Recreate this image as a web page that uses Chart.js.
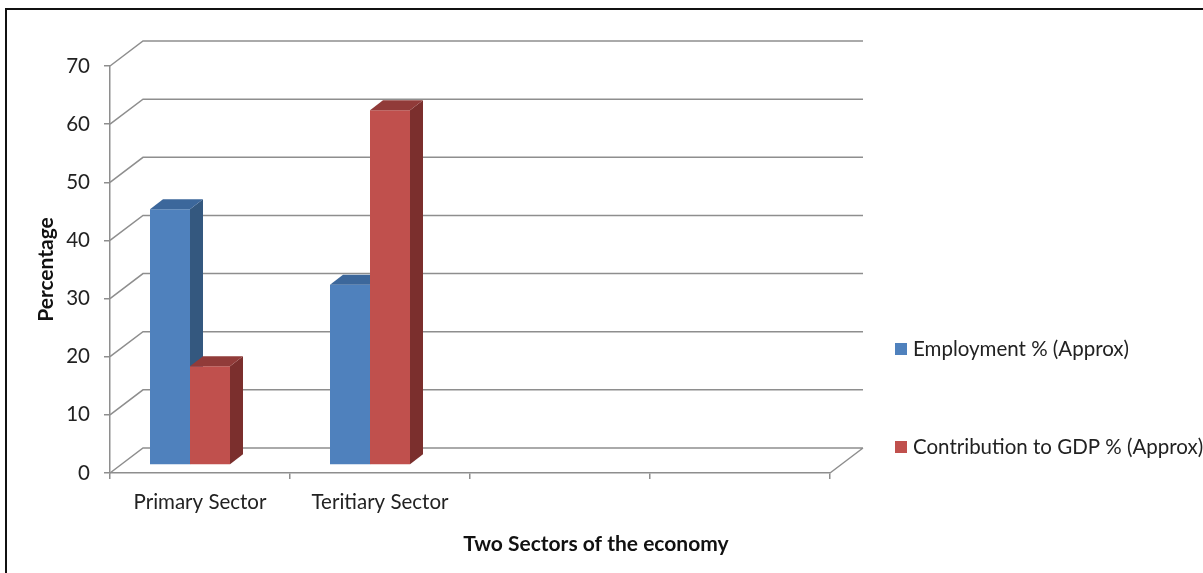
<!DOCTYPE html>
<html lang="en">
<head>
<meta charset="UTF-8">
<title>Two Sectors of the economy</title>
<script src="https://cdn.jsdelivr.net/npm/chart.js"></script>
<style>
    body { margin: 0; background: #ffffff; }
    canvas { display: block; }
</style>
</head>
<body>
<canvas id="sectorChart" width="1203" height="573"></canvas>
<script>
    // data
    const categories = ['Primary Sector', 'Teritiary Sector', '', ''];
    const employment = [44, 31, null, null];
    const gdpShare = [17, 61, null, null];
    const seriesNames = ['Employment % (Approx)', 'Contribution to GDP % (Approx)'];
    const yMax = 70;
    const yStep = 10;

    const frontColors = ['#4f81bd', '#c0504d'];
    const topColors = ['#3c679b', '#913b39'];
    const sideColors = ['#34587f', '#7b2f2d'];

    const gridColor = '#8e8e8e';
    const fontName = 'Lato, "Open Sans", sans-serif';

    // 3d look: back wall offset, bar depth, bar shift
    const WALL_DX = 33, WALL_DY = 25;
    const BAR_DX = 13, BAR_DY = 10;
    const SHIFT_X = -10, SHIFT_Y = -8;

    const threeD = {
        id: 'threeD',
        beforeDraw(chart) {
            const ctx = chart.ctx;
            ctx.save();
            ctx.fillStyle = '#ffffff';
            ctx.fillRect(0, 0, chart.width, chart.height);
            // frame
            ctx.strokeStyle = '#111';
            ctx.lineWidth = 2;
            ctx.beginPath();
            ctx.moveTo(6, chart.height);
            ctx.lineTo(6, 9);
            ctx.lineTo(chart.width, 9);
            ctx.stroke();
            ctx.restore();
        },
        beforeDatasetsDraw(chart) {
            const ctx = chart.ctx;
            const y = chart.scales.y;
            const a = chart.chartArea;
            ctx.save();
            ctx.strokeStyle = gridColor;
            ctx.lineWidth = 1.5;
            ctx.beginPath();
            for (let v = 0; v <= yMax; v += yStep) {
                const py = y.getPixelForValue(v);
                ctx.moveTo(a.left, py);
                ctx.lineTo(a.left + WALL_DX, py - WALL_DY);
                ctx.lineTo(a.right + WALL_DX, py - WALL_DY);
            }
            // right edge of the floor
            ctx.moveTo(a.right, a.bottom);
            ctx.lineTo(a.right + WALL_DX, a.bottom - WALL_DY);
            ctx.stroke();
            ctx.restore();
        },
        beforeDatasetDraw() {
            return false; // bars are drawn below, in cluster order
        },
        afterDatasetsDraw(chart) {
            const ctx = chart.ctx;
            ctx.save();
            ctx.translate(SHIFT_X, SHIFT_Y);
            const n = chart.data.labels.length;
            for (let i = 0; i < n; i++) {
                chart.data.datasets.forEach((ds, d) => {
                    const bar = chart.getDatasetMeta(d).data[i];
                    if (!bar || ds.data[i] == null) return;
                    bar.draw(ctx);
                    const p = bar.getProps(['x', 'y', 'base', 'width'], true);
                    const l = p.x - p.width / 2, r = p.x + p.width / 2;
                    // side
                    ctx.fillStyle = sideColors[d];
                    ctx.beginPath();
                    ctx.moveTo(r, p.y);
                    ctx.lineTo(r + BAR_DX, p.y - BAR_DY);
                    ctx.lineTo(r + BAR_DX, p.base - BAR_DY);
                    ctx.lineTo(r, p.base);
                    ctx.closePath();
                    ctx.fill();
                    // top
                    ctx.fillStyle = topColors[d];
                    ctx.beginPath();
                    ctx.moveTo(l, p.y);
                    ctx.lineTo(l + BAR_DX, p.y - BAR_DY);
                    ctx.lineTo(r + BAR_DX, p.y - BAR_DY);
                    ctx.lineTo(r, p.y);
                    ctx.closePath();
                    ctx.fill();
                });
            }
            ctx.restore();
        },
        afterDraw(chart) {
            const ctx = chart.ctx;
            ctx.save();
            // x axis title
            ctx.fillStyle = '#111';
            ctx.font = 'bold 21px ' + fontName;
            ctx.textAlign = 'center';
            ctx.textBaseline = 'middle';
            ctx.fillText('Two Sectors of the economy', 596, 544);
            // legend
            ctx.font = '20.5px ' + fontName;
            ctx.textAlign = 'left';
            const legendY = [349, 447];
            seriesNames.forEach((name, d) => {
                ctx.fillStyle = frontColors[d];
                ctx.fillRect(895, legendY[d] - 6, 12, 12);
                ctx.fillStyle = '#222';
                ctx.fillText(name, 913, legendY[d]);
            });
            ctx.restore();
        }
    };

    new Chart(document.getElementById('sectorChart'), {
        type: 'bar',
        data: {
            labels: categories,
            datasets: [
                { label: seriesNames[0], data: employment, backgroundColor: frontColors[0] },
                { label: seriesNames[1], data: gdpShare, backgroundColor: frontColors[1] }
            ]
        },
        options: {
            responsive: false,
            animation: false,
            layout: { padding: { left: 0, top: 66, right: 373, bottom: 0 } },
            datasets: {
                bar: { categoryPercentage: 80 / 180, barPercentage: 1 }
            },
            plugins: {
                legend: { display: false },
                tooltip: { enabled: false }
            },
            scales: {
                x: {
                    afterFit(scale) { scale.height = 100; },
                    grid: { offset: true, drawOnChartArea: false, tickLength: 6, color: gridColor, lineWidth: 1.5 },
                    border: { color: gridColor, width: 1.5 },
                    ticks: { color: '#222', padding: 11, maxRotation: 0, font: { family: fontName, size: 20.5 } }
                },
                y: {
                    min: 0,
                    max: yMax,
                    afterFit(scale) { scale.width = 110; },
                    grid: { drawOnChartArea: false, tickLength: 6, color: gridColor, lineWidth: 1.5 },
                    border: { color: gridColor, width: 1.5 },
                    ticks: { stepSize: yStep, color: '#222', padding: 14, font: { family: fontName, size: 20.5 } },
                    title: {
                        display: true,
                        text: 'Percentage',
                        color: '#111',
                        padding: { top: 34, bottom: 0 },
                        font: { family: fontName, size: 21, weight: 'bold' }
                    }
                }
            }
        },
        plugins: [threeD]
    });
</script>
</body>
</html>
